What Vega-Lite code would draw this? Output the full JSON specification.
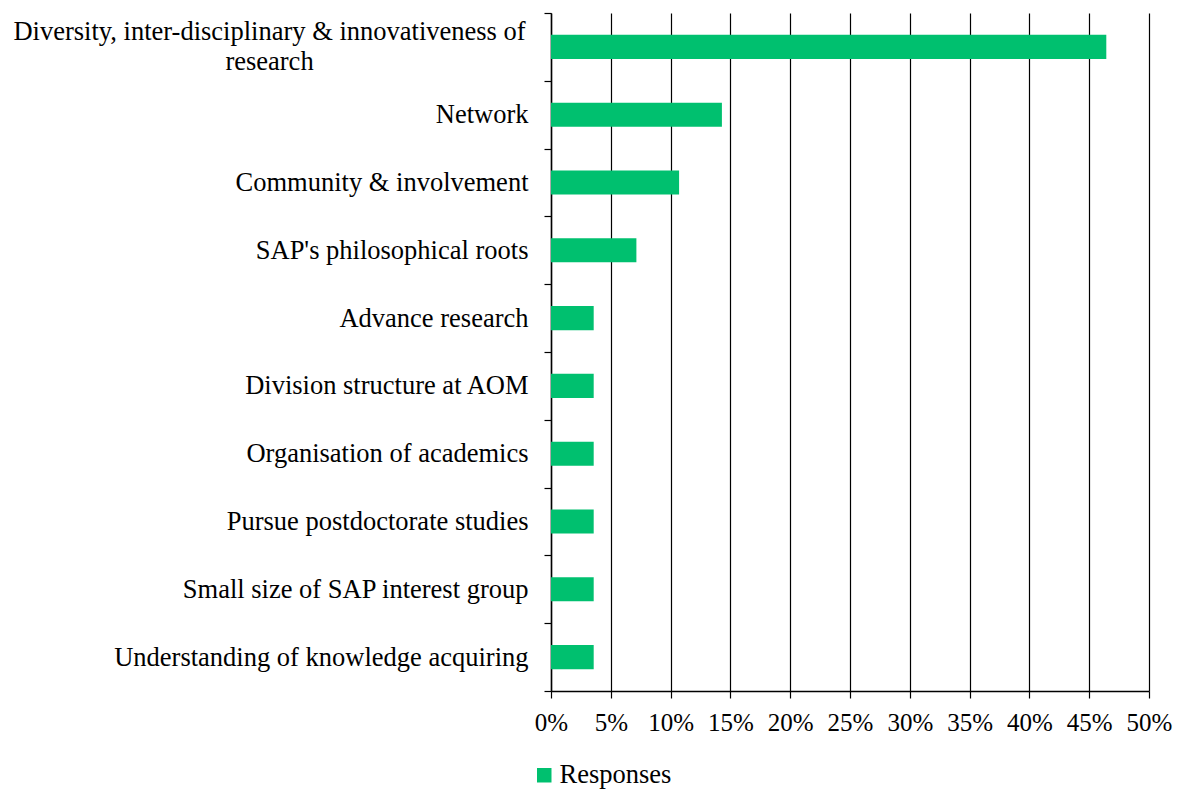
{
  "$schema": "https://vega.github.io/schema/vega-lite/v6.json",
  "autosize": {"type": "none"},
  "width": 598,
  "height": 678,
  "padding": {"left": 551, "top": 13, "right": 31, "bottom": 98},
  "background": "white",
  "config": {
    "view": {"stroke": null},
    "font": "Liberation Serif"
  },
  "data": {
    "values": [
      {"category": "Diversity, inter-disciplinary & innovativeness of research", "value": 0.4643, "series": "Responses"},
      {"category": "Network", "value": 0.1429, "series": "Responses"},
      {"category": "Community & involvement", "value": 0.1071, "series": "Responses"},
      {"category": "SAP's philosophical roots", "value": 0.0714, "series": "Responses"},
      {"category": "Advance research", "value": 0.0357, "series": "Responses"},
      {"category": "Division structure at AOM", "value": 0.0357, "series": "Responses"},
      {"category": "Organisation of academics", "value": 0.0357, "series": "Responses"},
      {"category": "Pursue postdoctorate studies", "value": 0.0357, "series": "Responses"},
      {"category": "Small size of SAP interest group", "value": 0.0357, "series": "Responses"},
      {"category": "Understanding of knowledge acquiring", "value": 0.0357, "series": "Responses"}
    ]
  },
  "mark": {"type": "bar", "height": {"band": 0.355}},
  "encoding": {
    "y": {
      "field": "category",
      "type": "nominal",
      "sort": null,
      "scale": {"paddingInner": 0, "paddingOuter": 0},
      "axis": {
        "title": null,
        "tickBand": "extent",
        "tickSize": 7,
        "tickColor": "black",
        "tickWidth": 1.2,
        "domainColor": "black",
        "domainWidth": 1.5,
        "labelFont": "Liberation Serif",
        "labelFontSize": 26.5,
        "labelColor": "black",
        "labelPadding": {"condition": {"test": "datum.value == 'Diversity, inter-disciplinary & innovativeness of research'", "value": 275}, "value": 16},
        "labelAlign": {"condition": {"test": "datum.value == 'Diversity, inter-disciplinary & innovativeness of research'", "value": "center"}, "value": "right"},
        "labelOffset": {"condition": {"test": "datum.value == 'Diversity, inter-disciplinary & innovativeness of research'", "value": -15}, "value": 0},
        "labelLimit": 600,
        "labelLineHeight": 30,
        "labelExpr": "datum.value == 'Diversity, inter-disciplinary & innovativeness of research' ? ['Diversity, inter-disciplinary & innovativeness of', 'research'] : datum.value"
      }
    },
    "x": {
      "field": "value",
      "type": "quantitative",
      "scale": {"domain": [0, 0.5], "nice": false},
      "axis": {
        "title": null,
        "format": ".0%",
        "values": [0, 0.05, 0.1, 0.15, 0.2, 0.25, 0.3, 0.35, 0.4, 0.45, 0.5],
        "grid": true,
        "gridColor": "black",
        "gridWidth": 1.2,
        "gridOpacity": 1,
        "tickSize": 7,
        "tickColor": "black",
        "tickWidth": 1.2,
        "domainColor": "black",
        "domainWidth": 1.5,
        "labelFont": "Liberation Serif",
        "labelFontSize": 25,
        "labelColor": "black",
        "labelPadding": 12,
        "labelFlush": false
      }
    },
    "color": {
      "field": "series",
      "type": "nominal",
      "scale": {"range": ["#00C06F"]},
      "legend": {
        "title": null,
        "orient": "none",
        "legendX": -20,
        "legendY": 749,
        "padding": 0,
        "symbolType": "square",
        "symbolSize": 210,
        "labelFont": "Liberation Serif",
        "labelFontSize": 26.5,
        "labelColor": "black",
        "labelOffset": 2
      }
    }
  }
}
